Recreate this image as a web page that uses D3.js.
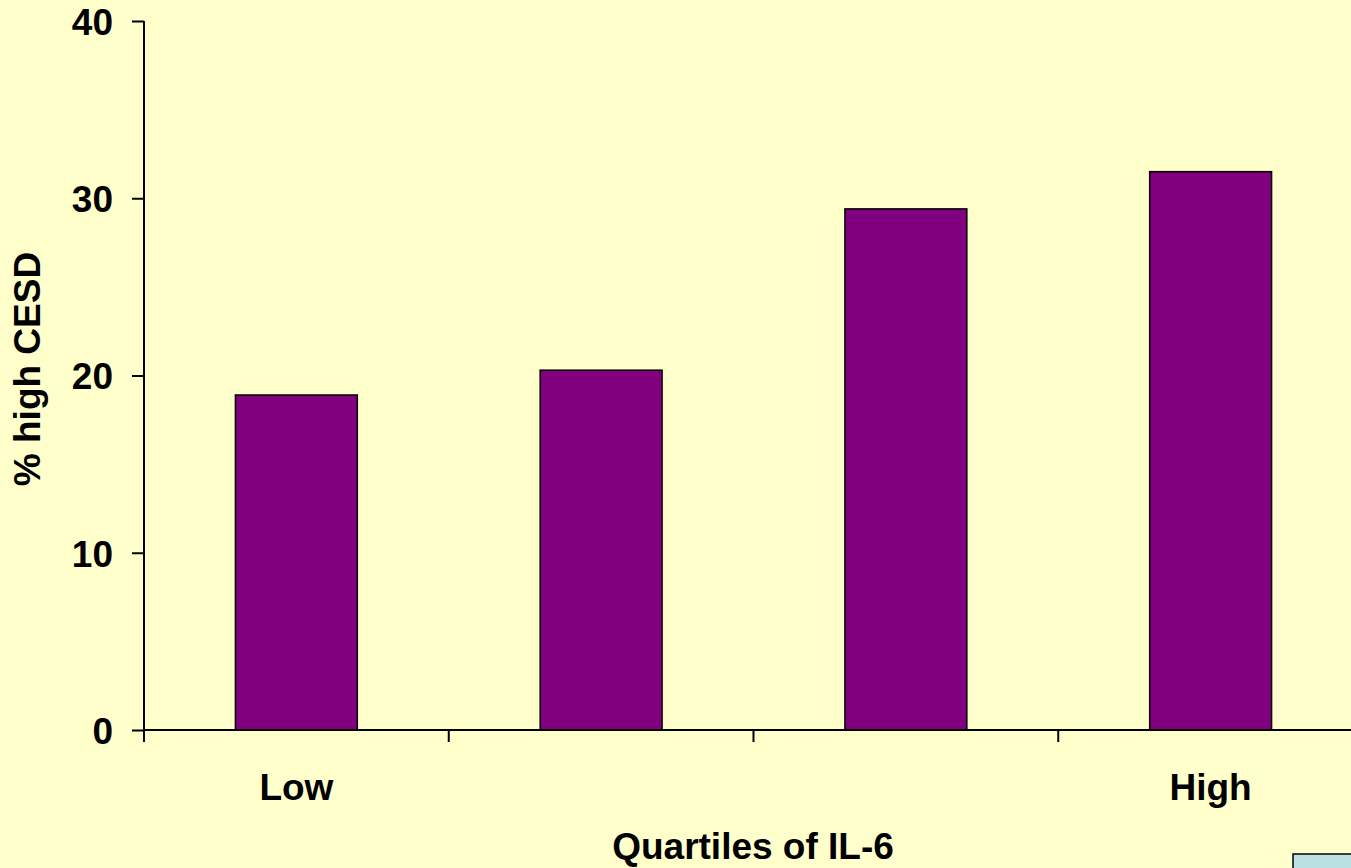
<!DOCTYPE html>
<html>
<head>
<meta charset="utf-8">
<script src="https://cdn.jsdelivr.net/npm/d3@7"></script>
<style>
  html, body { margin: 0; padding: 0; background: #FFFFCC; }
  svg { display: block; }
  text { font-family: "Liberation Sans", Arial, sans-serif; font-weight: bold; fill: #000; }
</style>
</head>
<body>
<script>
// Share of participants with high CESD scores, by IL-6 quartile
const quartiles = ["Q1", "Q2", "Q3", "Q4"];
const percentHighCESD = [18.9, 20.3, 29.4, 31.5];
const yTicks = [0, 10, 20, 30, 40];
const quartileLabels = { Q1: "Low", Q4: "High" };

const width = 1351, height = 868;
const plot = { left: 144, top: 21, bottom: 730, right: 1363 };
const fontSize = "37px";

const svg = d3.select("body").append("svg")
  .attr("width", width).attr("height", height);

svg.append("rect").attr("width", width).attr("height", height).attr("fill", "#FFFFCC");

const x = d3.scaleBand()
  .domain(quartiles)
  .range([plot.left, plot.right])
  .paddingInner(0.6)
  .paddingOuter(0.3);

const y = d3.scaleLinear().domain([0, 40]).range([plot.bottom, plot.top]);

// Bars
svg.append("g").selectAll("rect")
  .data(quartiles)
  .join("rect")
  .attr("x", d => x(d))
  .attr("width", x.bandwidth())
  .attr("y", (d, i) => y(percentHighCESD[i]))
  .attr("height", (d, i) => y(0) - y(percentHighCESD[i]))
  .attr("fill", "#800080")
  .attr("stroke", "#000")
  .attr("stroke-width", 1.5);

// Y axis
const yAxis = d3.axisLeft(y).tickValues(yTicks).tickSize(12).tickPadding(19).tickFormat(d3.format("d"));
const gy = svg.append("g").attr("transform", `translate(${plot.left},0)`).call(yAxis);
gy.select(".domain").attr("stroke", "#000").attr("stroke-width", 2).attr("d", `M0,${plot.top}V${plot.bottom}`);
gy.selectAll(".tick line").attr("stroke", "#000").attr("stroke-width", 2);
gy.selectAll(".tick text").style("font-size", fontSize).attr("dy", "0.36em")
  .style("font-family", "'Liberation Sans', Arial, sans-serif").style("font-weight", "bold");

// X axis: baseline with ticks at category boundaries
const step = x.step();
const xr = x.range();
svg.append("line")
  .attr("x1", xr[0]).attr("x2", xr[1])
  .attr("y1", plot.bottom).attr("y2", plot.bottom)
  .attr("stroke", "#000").attr("stroke-width", 2);
svg.append("g").selectAll("line")
  .data(d3.range(quartiles.length + 1))
  .join("line")
  .attr("x1", i => xr[0] + i * step).attr("x2", i => xr[0] + i * step)
  .attr("y1", plot.bottom).attr("y2", plot.bottom + 12)
  .attr("stroke", "#000").attr("stroke-width", 2);

// Category labels at the two ends
svg.append("g").selectAll("text")
  .data(quartiles.filter(q => quartileLabels[q]))
  .join("text")
  .attr("x", d => x(d) + x.bandwidth() / 2)
  .attr("y", 800)
  .attr("text-anchor", "middle")
  .style("font-size", fontSize)
  .text(d => quartileLabels[d]);

// Axis titles
svg.append("text")
  .attr("x", 753).attr("y", 859)
  .attr("text-anchor", "middle")
  .style("font-size", fontSize)
  .text("Quartiles of IL-6");

svg.append("text")
  .attr("transform", "translate(40,369) rotate(-90)")
  .attr("text-anchor", "middle")
  .style("font-size", fontSize)
  .text("% high CESD");

// Small panel in the lower-right corner
svg.append("rect")
  .attr("x", 1293).attr("y", 854)
  .attr("width", 80).attr("height", 40)
  .attr("fill", "#BBE0E3")
  .attr("stroke", "#000").attr("stroke-width", 1.5);
</script>
</body>
</html>
